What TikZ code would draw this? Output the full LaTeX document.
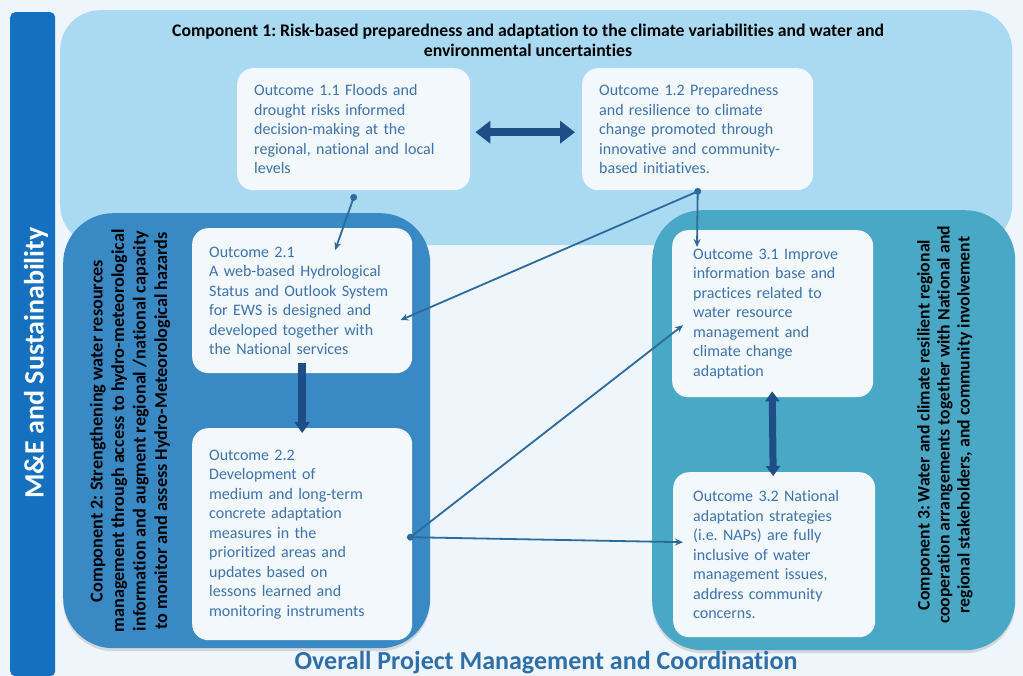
\documentclass[tikz,border=0pt]{standalone}
\usepackage{fontspec}
\setmainfont{Carlito}[Ligatures=NoCommon]
\usetikzlibrary{arrows.meta,shadows,calc}
\definecolor{bg}{HTML}{EEF5FB}
\definecolor{mebar}{HTML}{1570C0}
\definecolor{compone}{HTML}{AAD9F2}
\definecolor{comptwo}{HTML}{3889C4}
\definecolor{compthree}{HTML}{49A8C6}
\definecolor{boxfill}{HTML}{F2F8FC}
\definecolor{outtext}{HTML}{3E73AC}
\definecolor{thickarr}{HTML}{1F4E87}
\definecolor{thinline}{HTML}{2D6B9C}
\definecolor{bottomtext}{HTML}{2F6FA8}
\tikzset{
  region/.style={draw=none, anchor=north west, inner sep=0pt},
  outbox/.style={draw=none, fill=boxfill, rounded corners=16pt, anchor=north west,
    align=left, text=outtext, inner xsep=17pt, inner ysep=4pt,
    font=\fontsize{16}{19.5}\selectfont},
  comptitle/.style={align=center, text=black, font=\bfseries\fontsize{17.7}{20}\selectfont},
  sidetitle/.style={align=center, text=black, rotate=90, font=\bfseries\fontsize{18.2}{21.5}\selectfont},
  bigarrow/.style={thickarr, line width=8pt},
  link/.style={thinline, line width=1.8pt, -{Stealth[length=8pt,width=7pt]}},
  linkdot/.style={fill=thinline, circle, inner sep=0pt, minimum size=7pt}
}
\begin{document}
\frenchspacing
\begin{tikzpicture}[x=1pt,y=-1pt]
\useasboundingbox (0,0) rectangle (1023,676);
\fill[bg] (0,0) rectangle (1023,676);

% M&E bar
\node[region, fill=mebar, rounded corners=5pt, minimum width=45pt, minimum height=664pt] (mebarnode) at (10,12) {};
\node[rotate=90, text=white, font=\bfseries\fontsize{28}{32}\selectfont] (metext) at (36,363) {M\&E and Sustainability};

% Component regions
\node[region, fill=compone, rounded corners=40pt, minimum width=952pt, minimum height=235pt] (c1) at (60,10) {};
\node[comptitle] (c1title) at (528,40) {Component 1: Risk-based preparedness and adaptation to the climate variabilities and water and\\environmental uncertainties};

\node[region, fill=comptwo, rounded corners=50pt, minimum width=367pt, minimum height=435pt,
  drop shadow={opacity=0.25, shadow xshift=0pt, shadow yshift=-3pt}] (c2) at (63,213) {};
\node[region, fill=compthree, rounded corners=50pt, minimum width=363pt, minimum height=440pt,
  drop shadow={opacity=0.25, shadow xshift=0pt, shadow yshift=-3pt}] (c3) at (652,210) {};

\node[sidetitle] (c2title) at (130,431) {Component 2: Strengthening water resources\\management through access to hydro-meteorological\\information and augment regional /national capacity\\to monitor and assess Hydro-Meteorological hazards};
\node[sidetitle, font=\bfseries\fontsize{17.7}{20}\selectfont] (c3title) at (945,425) {Component 3: Water and climate resilient regional\\cooperation arrangements together with National and\\regional stakeholders, and community involvement};

% Outcome boxes
\node[outbox, minimum width=233pt, minimum height=122pt, text width=199pt] (o11) at (237,68)
  {Outcome 1.1 Floods and\\drought risks informed\\decision-making at the\\regional, national and local\\levels};
\node[outbox, minimum width=231pt, minimum height=122pt, text width=197pt] (o12) at (582,68)
  {Outcome 1.2 Preparedness\\and resilience to climate\\change promoted through\\innovative and community-\\based initiatives.};
\node[outbox, minimum width=220pt, minimum height=145pt, text width=186pt] (o21) at (192,228)
  {Outcome 2.1\\A web-based Hydrological\\Status and Outlook System\\for EWS is designed and\\developed together with\\the National services};
\node[outbox, minimum width=220pt, minimum height=212pt, text width=186pt] (o22) at (192,428)
  {Outcome 2.2\\Development of\\medium and long-term\\concrete adaptation\\measures in the\\prioritized areas and\\updates based on\\lessons learned and\\monitoring instruments};
\node[outbox, minimum width=201pt, minimum height=167pt, text width=167pt, inner xsep=17pt] (o31) at (672,230)
  {\hspace*{4pt}Outcome 3.1 Improve\\\hspace*{4pt}information base and\\\hspace*{4pt}practices related to\\\hspace*{4pt}water resource\\\hspace*{4pt}management and\\\hspace*{4pt}climate change\\\hspace*{4pt}adaptation};
\node[outbox, minimum width=202pt, minimum height=165pt, text width=168pt] (o32) at (673,472)
  {\hspace*{3pt}Outcome 3.2 National\\\hspace*{3pt}adaptation strategies\\\hspace*{3pt}(i.e. NAPs) are fully\\\hspace*{3pt}inclusive of water\\\hspace*{3pt}management issues,\\\hspace*{3pt}address community\\\hspace*{3pt}concerns.};

% Thick arrows
\draw[bigarrow, {Triangle[length=15pt,width=22pt]}-{Triangle[length=15pt,width=22pt]}]
  ([xshift=5pt,yshift=-3pt]o11.east) -- ([xshift=-7pt,yshift=-3pt]o12.west);
\draw[bigarrow, -{Triangle[length=11pt,width=15pt]}]
  ([yshift=10pt]o21.south) -- ([yshift=-5pt]o22.north);
\draw[bigarrow, line width=7pt, {Triangle[length=10pt,width=14pt]}-{Triangle[length=10pt,width=14pt]}]
  ([xshift=-0.5pt,yshift=6pt]o31.south) -- ([xshift=-1pt,yshift=-4pt]o32.north);

% Thin connectors
\coordinate (p11) at ($(o11.south)+(0,7)$);
\coordinate (p12) at ($(o12.south)+(0,1)$);
\coordinate (p22) at ($(o22.east)+(-2,3)$);
\coordinate (t21a) at ($(o21.north)+(33,22)$);
\coordinate (t21b) at ($(o21.east)+(-12,19.5)$);
\coordinate (t31a) at ($(o31.north west)+(25,17)$);
\coordinate (t31b) at ($(o31.west)+(11,11.5)$);
\coordinate (t32) at ($(o32.west)+(10,-12.5)$);

\draw[link] (p11) -- (t21a);
\draw[link] (p12) -- (t21b);
\draw[link] (p12) -- (t31a);
\draw[link] (p22) -- (t31b);
\draw[link] (p22) -- (t32);
\node[linkdot] (dot11) at (p11) {};
\node[linkdot] (dot12) at (p12) {};
\node[linkdot] (dot22) at (p22) {};

% Bottom label
\node[text=bottomtext, font=\bfseries\fontsize{26}{30}\selectfont, anchor=base] (bottom) at (546,669) {Overall Project Management and Coordination};
\end{tikzpicture}
\end{document}
